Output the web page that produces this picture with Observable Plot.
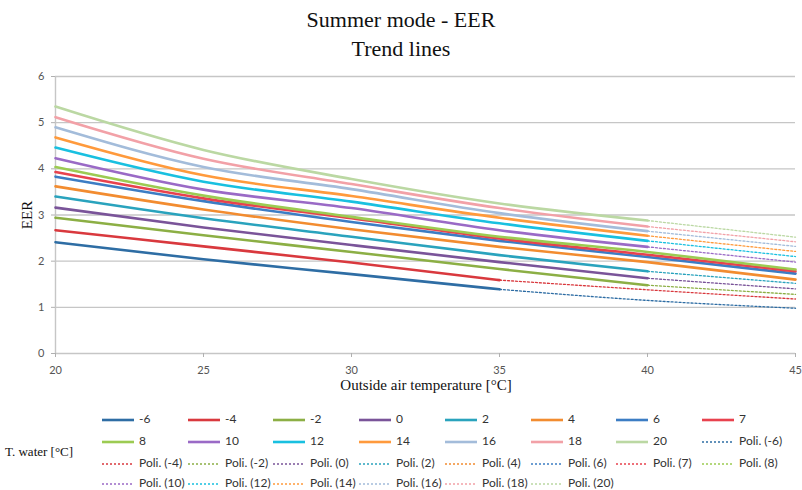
<!DOCTYPE html>
<html><head><meta charset="utf-8">
<script src="https://cdn.jsdelivr.net/npm/d3@7"></script>
<script src="https://cdn.jsdelivr.net/npm/@observablehq/plot@0.6"></script>
<style>
body{margin:0;background:#fff;}
#wrap{position:relative;width:802px;height:490px;overflow:hidden;font-family:"Liberation Serif","Times New Roman",serif;background:#fff;}
.title{position:absolute;left:0;width:802px;text-align:center;font-size:22px;line-height:29px;color:#111;}
#chart{position:absolute;left:0;top:66px;}
.axt{position:absolute;font-size:15px;color:#111;white-space:nowrap;}
.leg{position:absolute;font-family:Lato,"Open Sans",sans-serif;font-size:12px;color:#333;white-space:nowrap;height:16px;line-height:16px;}
.leg svg{vertical-align:middle;margin-right:5px;}
</style></head><body>
<div id="wrap">
  <div class="title" style="top:5px">Summer mode - EER</div>
  <div class="title" style="top:34px">Trend lines</div>
  <div id="chart"></div>
  <div class="axt" style="left:0;width:852px;text-align:center;top:377px;">Outside air temperature [°C]</div>
  <div class="axt" style="left:27px;top:215px;transform:translate(-50%,-50%) rotate(-90deg);">EER</div>
  <div class="axt" style="left:5px;top:444px;font-size:13px;">T. water [°C]</div>
  <div id="legend"></div>
</div>
<script>
const temps = [20, 25, 30, 35, 40, 45];
const waterTemps = ["-6","-4","-2","0","2","4","6","7","8","10","12","14","16","18","20"];
const colors = ["#2E6DA4","#D9393E","#8CAF45","#7A5499","#2AA3BD","#F28C30","#3C7DC4","#E8424E","#9CCB52","#9A6AC6","#19C0E0","#FF9A3C","#A3BCDA","#F2A1A7","#BBD8A3"];
const yTicks = [0, 1, 2, 3, 4, 5, 6];
const xTicks = [20, 25, 30, 35, 40, 45];

// EER readings (solid series)
const eer_m6 = [2.41, 2.04, 1.72, 1.39, null, null];
const eer_m4 = [2.67, 2.32, 1.97, 1.59, null, null];
const eer_m2 = [2.94, 2.56, 2.20, 1.83, 1.48, null];
const eer_0  = [3.16, 2.73, 2.35, 1.98, 1.63, null];
const eer_2  = [3.40, 2.93, 2.53, 2.13, 1.78, null];
const eer_4  = [3.62, 3.12, 2.69, 2.31, 1.98, 1.60];
const eer_6  = [3.83, 3.30, 2.85, 2.44, 2.09, 1.73];
const eer_7  = [3.93, 3.36, 2.93, 2.49, 2.14, 1.78];
const eer_8  = [4.04, 3.42, 2.96, 2.53, 2.20, 1.82];
const eer_10 = [4.23, 3.55, 3.15, 2.67, 2.31, null];
const eer_12 = [4.46, 3.72, 3.29, 2.82, 2.44, null];
const eer_14 = [4.68, 3.86, 3.41, 2.94, 2.55, null];
const eer_16 = [4.90, 4.04, 3.56, 3.04, 2.65, null];
const eer_18 = [5.12, 4.22, 3.67, 3.15, 2.75, null];
const eer_20 = [5.35, 4.41, 3.78, 3.25, 2.88, null];

// Polynomial trend line extensions (dotted)
const trend_m6 = [null, null, null, 1.39, 1.15, 0.98];
const trend_m4 = [null, null, null, 1.59, 1.38, 1.18];
const trend_m2 = [null, null, null, null, 1.48, 1.28];
const trend_0  = [null, null, null, null, 1.63, 1.40];
const trend_2  = [null, null, null, null, 1.78, 1.52];
const trend_4  = [null, null, null, null, null, null];
const trend_6  = [null, null, null, null, null, null];
const trend_7  = [null, null, null, null, null, null];
const trend_8  = [null, null, null, null, null, null];
const trend_10 = [null, null, null, null, 2.31, 1.98];
const trend_12 = [null, null, null, null, 2.44, 2.10];
const trend_14 = [null, null, null, null, 2.55, 2.21];
const trend_16 = [null, null, null, null, 2.65, 2.32];
const trend_18 = [null, null, null, null, 2.75, 2.42];
const trend_20 = [null, null, null, null, 2.88, 2.52];

const solidSets = [eer_m6,eer_m4,eer_m2,eer_0,eer_2,eer_4,eer_6,eer_7,eer_8,eer_10,eer_12,eer_14,eer_16,eer_18,eer_20];
const trendSets = [trend_m6,trend_m4,trend_m2,trend_0,trend_2,trend_4,trend_6,trend_7,trend_8,trend_10,trend_12,trend_14,trend_16,trend_18,trend_20];

function toRows(sets) {
  const rows = [];
  sets.forEach((arr, i) => arr.forEach((v, j) => {
    if (v != null) rows.push({t: temps[j], v, s: waterTemps[i]});
  }));
  return rows;
}
const solidRows = toRows(solidSets);
const trendRows = toRows(trendSets);

const chart = Plot.plot({
  width: 802,
  height: 334,
  marginLeft: 55,
  marginRight: 7,
  marginTop: 10,
  marginBottom: 47,
  style: {fontFamily: "Lato, 'Open Sans', sans-serif", fontSize: "11px", color: "#555", background: "#fff"},
  x: {domain: [20, 45], label: null},
  y: {domain: [0, 6], label: null},
  color: {domain: waterTemps, range: colors},
  marks: [
    Plot.gridY(yTicks, {stroke: "#c6c6c6", strokeOpacity: 1, strokeWidth: 1.4}),
    Plot.ruleX([20], {stroke: "#c6c6c6", strokeWidth: 1.4}),
    Plot.axisY({ticks: yTicks, tickFormat: "d", tickSize: 4, tickPadding: 7, stroke: "#b0b0b0", label: null}),
    Plot.axisX({ticks: xTicks, tickFormat: "d", tickSize: 4, tickPadding: 9, stroke: "#b0b0b0", label: null}),
    Plot.line(trendRows, {x: "t", y: "v", z: "s", stroke: "s", strokeWidth: 1.3, strokeDasharray: "2,2", curve: "monotone-x"}),
    Plot.line(solidRows, {x: "t", y: "v", z: "s", stroke: "s", strokeWidth: 2.6, curve: "monotone-x"})
  ]
});
document.getElementById("chart").appendChild(chart);

// Legend
const legendItems = [];
waterTemps.forEach((w, i) => legendItems.push({label: w, color: colors[i], dotted: false}));
waterTemps.forEach((w, i) => legendItems.push({label: "Poli. (" + w + ")", color: colors[i], dotted: true}));
const legend = document.getElementById("legend");
const rowY = [419, 441, 463, 483];
legendItems.forEach((it, k) => {
  const col = k % 8, row = Math.floor(k / 8);
  const d = document.createElement("div");
  d.className = "leg";
  d.style.left = Math.round(102 + col * 85.7) + "px";
  d.style.top = (rowY[row] - 8) + "px";
  const dash = it.dotted ? ' stroke-dasharray="2,2"' : '';
  const sw = it.dotted ? 1.3 : 2.6;
  d.innerHTML = `<svg width="32" height="6"><line x1="0" x2="32" y1="3" y2="3" stroke="${it.color}" stroke-width="${sw}"${dash}/></svg>${it.label}`;
  legend.appendChild(d);
});
</script>
</body></html>
